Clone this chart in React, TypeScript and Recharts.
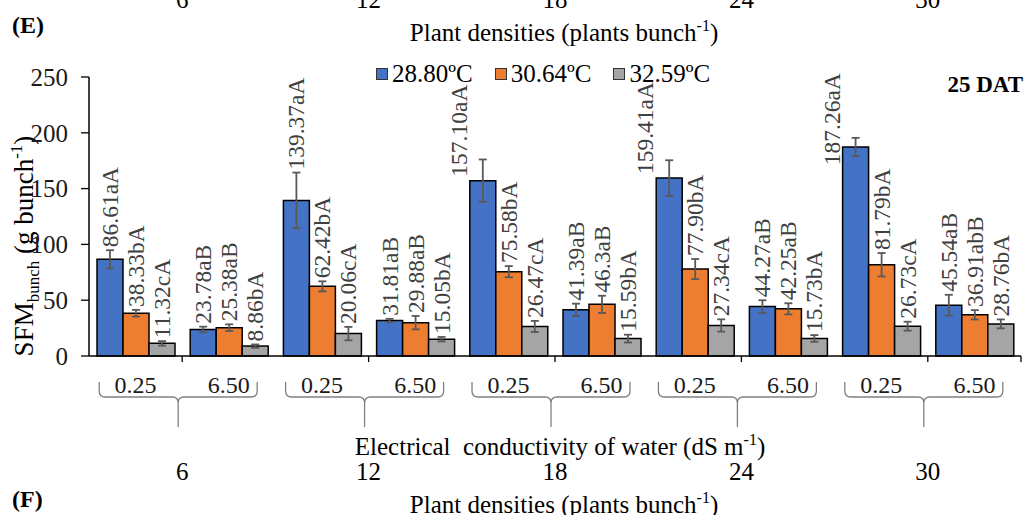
import { Bar, BarChart, ErrorBar, LabelList, Legend, XAxis, YAxis } from 'recharts';

const FONT = '"Liberation Serif", "Times New Roman", serif';

// electrical conductivity (dS m-1) and plant density for each cluster
const ecLevels = ['0.25', '6.50', '0.25', '6.50', '0.25', '6.50', '0.25', '6.50', '0.25', '6.50'];
const densities = ['6', '6', '12', '12', '18', '18', '24', '24', '30', '30'];
const temps = ['28.80ºC', '30.64ºC', '32.59ºC'];

const sfm2880 = [86.61, 23.78, 139.37, 31.81, 157.1, 41.39, 159.41, 44.27, 187.26, 45.54];
const sfm3064 = [38.33, 25.38, 62.42, 29.88, 75.58, 46.3, 77.9, 42.25, 81.79, 36.91];
const sfm3259 = [11.32, 8.86, 20.06, 15.05, 26.47, 15.59, 27.34, 15.73, 26.73, 28.76];

const err2880 = [8.2, 2.5, 25, 1.5, 19, 5.5, 16, 5.7, 8.2, 9.3];
const err3064 = [3, 3, 4.5, 6, 5, 7.7, 9, 5, 10.5, 4.2];
const err3259 = [2, 1.5, 6, 2, 5, 3.5, 5.5, 3, 4, 4];

const lab2880 = ['86.61aA', '23.78aB', '139.37aA', '31.81aB', '157.10aA', '41.39aB', '159.41aA', '44.27aB', '187.26aA', '45.54aB'];
const lab3064 = ['38.33bA', '25.38aB', '62.42bA', '29.88aB', '75.58bA', '46.3aB', '77.90bA', '42.25aB', '81.79bA', '36.91abB'];
const lab3259 = ['11.32cA', '8.86bA', '20.06cA', '15.05bA', '26.47cA', '15.59bA', '27.34cA', '15.73bA', '26.73cA', '28.76bA'];

const yTicks = [0, 50, 100, 150, 200, 250];

const data = ecLevels.map((ec, i) => ({
  ec,
  density: densities[i],
  t1: sfm2880[i],
  t2: sfm3064[i],
  t3: sfm3259[i],
  e1: err2880[i],
  e2: err3064[i],
  e3: err3259[i],
  l1: lab2880[i],
  l2: lab3064[i],
  l3: lab3259[i],
}));

const W = 1026;
const H = 515;
const PLOT_TOP = 77;
const PLOT_LEFT = 89;
const PLOT_RIGHT = 1021;
const CAT_W = (PLOT_RIGHT - PLOT_LEFT) / ecLevels.length;
const LABEL_SIZE = 23.5;
const COLORS = ['#4472C4', '#ED7D31', '#A5A5A5'];

// labels sit just above the error bar; tall ones that would run off the top go beside the bar
const makeLabel = (values: number[], errs: number[]) => (props: any) => {
  const { x, y, width, height, index, value } = props;
  const v = values[index];
  const k = Number(height) / v;
  const errTop = Number(y) - errs[index] * k;
  const len = String(value).length * 0.49 * LABEL_SIZE;
  let cx = Number(x) + Number(width) / 2;
  let base = errTop - 3;
  if (base - len < PLOT_TOP - 6) {
    cx -= 24;
    base = Math.max(Number(y) - 4, PLOT_TOP - 4 + len);
  }
  return (
    <text
      x={cx}
      y={base}
      transform={`rotate(-90 ${cx} ${base})`}
      dominantBaseline="central"
      fontSize={LABEL_SIZE}
      fontFamily={FONT}
      fill="#404040"
    >
      {value}
    </text>
  );
};

function brace(l: number, r: number, c: number, yt: number, ym: number, yb: number) {
  const q = 6;
  return [
    `M${l},${yt} L${l},${ym - q} Q${l},${ym} ${l + q},${ym}`,
    `L${c - q},${ym} Q${c},${ym} ${c},${ym + q} L${c},${yb}`,
    `M${c},${ym + q} Q${c},${ym} ${c + q},${ym} L${r - q},${ym} Q${r},${ym} ${r},${ym - q} L${r},${yt}`,
  ].join(' ');
}

function CategoryTick(props: any) {
  const { x, y, payload } = props;
  const i = payload.index ?? props.index;
  const row = data[i];
  const odd = i % 2 === 1;
  const gc = x - CAT_W / 2;
  return (
    <g>
      <text x={x} y={y + 37} textAnchor="middle" fontSize={24} fontFamily={FONT} fill="#1a1a1a">
        {payload.value}
      </text>
      {odd && (
        <g>
          <line x1={gc} x2={gc} y1={y} y2={y + 6} stroke="#000" strokeWidth={1.3} />
          {i === data.length - 1 && (
            <line x1={x + CAT_W / 2} x2={x + CAT_W / 2} y1={y} y2={y + 6} stroke="#000" strokeWidth={1.3} />
          )}
          <path d={brace(gc - 83, gc + 75, gc - 4, y + 26, y + 41, y + 71)} fill="none" stroke="#808080" strokeWidth={1.3} />
          <text x={gc} y={y + 124} textAnchor="middle" fontSize={25} fontFamily={FONT} fill="#000">
            {row.density}
          </text>
          <text x={gc} y={8} textAnchor="middle" fontSize={25} fontFamily={FONT} fill="#000">
            {row.density}
          </text>
        </g>
      )}
    </g>
  );
}

function LegendContent(props: any) {
  const items = props.payload ?? [];
  return (
    <div style={{ display: 'flex', alignItems: 'center', fontFamily: FONT, fontSize: 25, lineHeight: 1, color: '#000' }}>
      {items.map((it: any) => (
        <div key={it.value} style={{ display: 'flex', alignItems: 'center', marginRight: 22 }}>
          <span style={{ width: 10, height: 10, background: it.color, border: '1.5px solid #333', marginRight: 4 }} />
          <span>{it.value}</span>
        </div>
      ))}
    </div>
  );
}

export default function App() {
  return (
    <div style={{ position: 'absolute', left: 0, top: 0, width: W, height: H, overflow: 'hidden', background: '#fff' }}>
      <BarChart
        width={W}
        height={H}
        data={data}
        margin={{ top: PLOT_TOP, right: W - PLOT_RIGHT, bottom: 0, left: 0 }}
        barCategoryGap={8}
        barGap={0}
      >
        <XAxis
          dataKey="ec"
          height={H - 356}
          axisLine={{ stroke: '#000', strokeWidth: 1.5 }}
          tickLine={false}
          tickSize={0}
          tickMargin={0}
          interval={0}
          tick={<CategoryTick />}
        />
        <YAxis
          width={PLOT_LEFT}
          domain={[0, 250]}
          ticks={yTicks}
          interval={0}
          axisLine={{ stroke: '#000', strokeWidth: 1.5 }}
          tickLine={{ stroke: '#000', strokeWidth: 1.3 }}
          tickSize={8}
          tickMargin={13}
          tick={{ fontSize: 25, fill: '#1a1a1a', fontFamily: FONT }}
        />
        <Legend
          layout="horizontal"
          verticalAlign="middle"
          align="center"
          wrapperStyle={{ top: 61, left: 376, width: 'auto', right: 'auto', bottom: 'auto' }}
          content={<LegendContent />}
        />
        <Bar dataKey="t1" name={temps[0]} fill={COLORS[0]} stroke="#000" strokeWidth={1.5} isAnimationActive={false}>
          <ErrorBar dataKey="e1" width={4} stroke="#595959" strokeWidth={1.8} />
          <LabelList dataKey="l1" content={makeLabel(sfm2880, err2880)} />
        </Bar>
        <Bar dataKey="t2" name={temps[1]} fill={COLORS[1]} stroke="#000" strokeWidth={1.5} isAnimationActive={false}>
          <ErrorBar dataKey="e2" width={4} stroke="#595959" strokeWidth={1.8} />
          <LabelList dataKey="l2" content={makeLabel(sfm3064, err3064)} />
        </Bar>
        <Bar dataKey="t3" name={temps[2]} fill={COLORS[2]} stroke="#000" strokeWidth={1.5} isAnimationActive={false}>
          <ErrorBar dataKey="e3" width={4} stroke="#595959" strokeWidth={1.8} />
          <LabelList dataKey="l3" content={makeLabel(sfm3259, err3259)} />
        </Bar>

        <text x={12} y={33} fontSize={24} fontWeight="bold" fontFamily={FONT} fill="#000">(E)</text>
        <text x={564} y={41} textAnchor="middle" fontSize={25} fontFamily={FONT} fill="#000">
          Plant densities (plants bunch<tspan fontSize={16} dy={-10}>-1</tspan><tspan dy={10}>)</tspan>
        </text>
        <text x={1023} y={92} textAnchor="end" fontSize={23} fontWeight="bold" fontFamily={FONT} fill="#000">25 DAT</text>
        <text
          transform="translate(33 246) rotate(-90)"
          textAnchor="middle"
          fontSize={27}
          fontFamily={FONT}
          fill="#000"
          style={{ whiteSpace: 'pre' }}
        >
          SFM<tspan fontSize={17} dy={6}>bunch</tspan>
          <tspan dy={-6}> (g bunch</tspan>
          <tspan fontSize={17} dy={-11}>-1</tspan>
          <tspan dy={11}>)</tspan>
        </text>
        <text x={560} y={455} textAnchor="middle" fontSize={25} fontFamily={FONT} fill="#000" style={{ whiteSpace: 'pre' }}>
          Electrical  conductivity of water (dS m<tspan fontSize={16} dy={-10}>-1</tspan><tspan dy={10}>)</tspan>
        </text>
        <text x={12} y={507} fontSize={24} fontWeight="bold" fontFamily={FONT} fill="#000">(F)</text>
        <text x={564} y={513} textAnchor="middle" fontSize={25} fontFamily={FONT} fill="#000">
          Plant densities (plants bunch<tspan fontSize={16} dy={-10}>-1</tspan><tspan dy={10}>)</tspan>
        </text>
      </BarChart>
    </div>
  );
}
